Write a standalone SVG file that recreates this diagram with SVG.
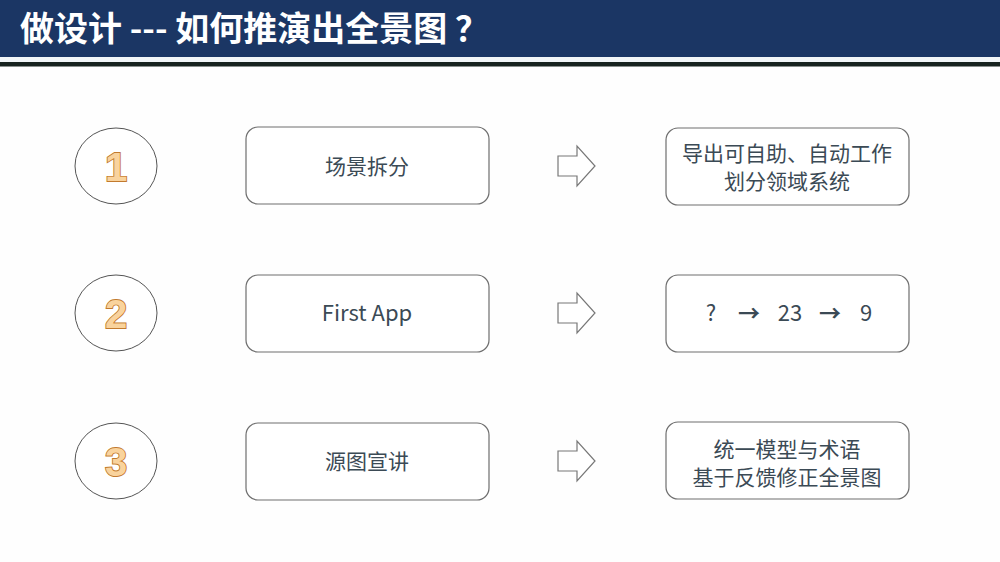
<svg xmlns="http://www.w3.org/2000/svg" width="1000" height="562" viewBox="0 0 1000 562">
<defs>
<style>
.box{fill:#ffffff;stroke:#6e6e6e;stroke-width:1.2}
.circ{fill:#ffffff;stroke:#555;stroke-width:1}
.num{font-family:"Liberation Sans","DejaVu Sans",sans-serif;font-weight:bold;font-size:40px;fill:#f9d39d;stroke:#c27a2e;stroke-width:1.8;text-anchor:middle;paint-order:stroke}
.t{font-family:"Noto Sans CJK SC","Noto Sans",sans-serif;font-size:21px;fill:#3b4a55;text-anchor:middle}
.s{font-family:"Noto Sans CJK SC","Noto Sans",sans-serif;font-size:22px;fill:#3b4a55;text-anchor:middle}
.arr{fill:#ffffff;stroke:#777;stroke-width:1.2;stroke-linejoin:miter}
.title{font-family:"Noto Sans CJK SC","Noto Sans",sans-serif;font-weight:bold;font-size:34px;fill:#ffffff}
</style>
<path id="blk" d="M0,-10 H19 V-20 L37,0 L19,20 V10 H0 Z"/>
</defs>
<rect width="1000" height="562" fill="#fefefe"/>
<g id="header">
<rect x="0" y="0" width="1000" height="57" fill="#1b3664"/>
<rect x="0" y="57" width="1000" height="5" fill="#f2f6f8"/>
<rect x="0" y="62" width="1000" height="4.5" fill="#17231f"/>
<text class="title" x="20" y="41">做设计 --- 如何推演出全景图 ？</text>
</g>
<g id="step1">
<ellipse class="circ" cx="116" cy="166" rx="41" ry="38"/>
<text class="num" x="116" y="181">1</text>
</g>
<g id="step2">
<ellipse class="circ" cx="116" cy="313" rx="41" ry="38"/>
<text class="num" x="116" y="328">2</text>
</g>
<g id="step3">
<ellipse class="circ" cx="116" cy="461" rx="41" ry="38"/>
<text class="num" x="116" y="476">3</text>
</g>
<g id="scene">
<rect class="box" x="246" y="127" width="243" height="77" rx="12"/>
<text class="t" x="367" y="174">场景拆分</text>
</g>
<g id="firstapp">
<rect class="box" x="246" y="275" width="243" height="77" rx="12"/>
<text class="s" x="367" y="321">First App</text>
</g>
<g id="source">
<rect class="box" x="246" y="423" width="243" height="77" rx="12"/>
<text class="t" x="367" y="469">源图宣讲</text>
</g>
<g id="result1">
<rect class="box" x="666" y="128" width="243" height="77" rx="12"/>
<text class="t" x="787" y="161">导出可自助、自动工作</text>
<text class="t" x="787" y="189">划分领域系统</text>
</g>
<g id="result2">
<rect class="box" x="666" y="275" width="243" height="77" rx="12"/>
<text class="s" x="711" y="321">?</text>
<text class="s" x="749" y="321" font-weight="bold">→</text>
<text class="s" x="790" y="321">23</text>
<text class="s" x="830" y="321" font-weight="bold">→</text>
<text class="s" x="866" y="321">9</text>
</g>
<g id="result3">
<rect class="box" x="666" y="422" width="243" height="77" rx="12"/>
<text class="t" x="787" y="457">统一模型与术语</text>
<text class="t" x="787" y="485">基于反馈修正全景图</text>
</g>
<g id="connectors">
<use href="#blk" class="arr" x="558" y="166"/>
<use href="#blk" class="arr" x="558" y="313"/>
<use href="#blk" class="arr" x="558" y="461"/>
</g>
</svg>
